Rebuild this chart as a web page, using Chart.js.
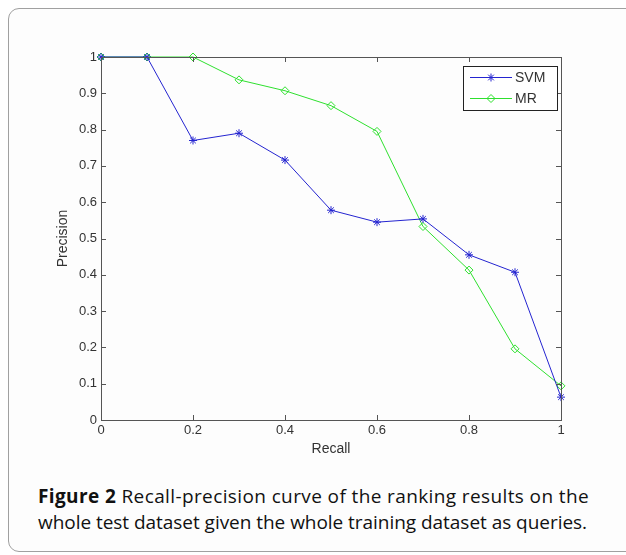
<!DOCTYPE html>
<html>
<head>
<meta charset="utf-8">
<script src="https://cdn.jsdelivr.net/npm/chart.js@4.4.0/dist/chart.umd.min.js"></script>
<style>
  html, body { margin: 0; padding: 0; background: #fff; }
  body { width: 626px; height: 555px; overflow: hidden; position: relative; }
  .panel {
    position: absolute; left: 8px; top: 8px; width: 660px; height: 542px;
    border: 1px solid #a0a0a0; border-radius: 11px; background: #fdfdfd;
  }
  .plot { position: absolute; left: 0; top: 0; width: 626px; height: 470px; }
  .caption {
    position: absolute; left: 38px; top: 483px;
    font-family: "Open Sans", sans-serif; font-size: 19px; line-height: 26px;
    color: #111; white-space: nowrap;
  }
  .caption b { font-weight: 700; }
  .caption span { display: inline-block; }
</style>
</head>
<body>
<div class="panel"></div>
<div class="plot"><canvas id="prChart" width="626" height="470"></canvas></div>
<div class="caption"><span id="capLine1"><b>Figure 2</b> Recall-precision curve of the ranking results on the</span><br><span id="capLine2">whole test dataset given the whole training dataset as queries.</span></div>
<script>
// recall levels and precision values
const recall = [0, 0.1, 0.2, 0.3, 0.4, 0.5, 0.6, 0.7, 0.8, 0.9, 1.0];
const svmPrecision = [1.0, 1.0, 0.77, 0.79, 0.716, 0.578, 0.545, 0.554, 0.455, 0.407, 0.063];
const mrPrecision = [1.0, 1.0, 1.0, 0.937, 0.907, 0.866, 0.795, 0.533, 0.413, 0.196, 0.094];
const xTicks = [0, 0.2, 0.4, 0.6, 0.8, 1];
const yTicks = [0, 0.1, 0.2, 0.3, 0.4, 0.5, 0.6, 0.7, 0.8, 0.9, 1];

const axisColor = '#555';
const textColor = '#333';
const tickFont = { family: 'Liberation Sans, Arial, sans-serif', size: 13 };
const titleFont = { family: 'Liberation Sans, Arial, sans-serif', size: 14 };

function toPoints(ys) {
    return recall.map(function(x, i) { return { x: x, y: ys[i] }; });
}

function fmt(v) {
    return String(Number(v.toFixed(2)));
}

// caption was typeset narrower in the original, stretch each line to its width
function fitLine(id, target) {
    const el = document.getElementById(id);
    const n = el.textContent.length;
    const w = el.getBoundingClientRect().width;
    el.style.letterSpacing = ((target - w) / n) + 'px';
}
fitLine('capLine1', 551);
fitLine('capLine2', 549);

// matlab style box with inward ticks on all four sides
const boxPlugin = {
    id: 'boxPlugin',
    afterDatasetsDraw: function(chart) {
        const ctx = chart.ctx;
        const a = chart.chartArea;
        const xs = chart.scales.x;
        const ys = chart.scales.y;
        const len = 5;
        ctx.save();
        ctx.strokeStyle = axisColor;
        ctx.lineWidth = 1;
        ctx.beginPath();
        xTicks.forEach(function(t) {
            const px = Math.round(xs.getPixelForValue(t)) + 0.5;
            ctx.moveTo(px, a.bottom); ctx.lineTo(px, a.bottom - len);
            ctx.moveTo(px, a.top); ctx.lineTo(px, a.top + len);
        });
        yTicks.forEach(function(t) {
            const py = Math.round(ys.getPixelForValue(t)) + 0.5;
            ctx.moveTo(a.left, py); ctx.lineTo(a.left + len, py);
            ctx.moveTo(a.right, py); ctx.lineTo(a.right - len, py);
        });
        ctx.stroke();
        ctx.strokeRect(Math.round(a.left) + 0.5, Math.round(a.top) + 0.5,
            Math.round(a.right - a.left), Math.round(a.bottom - a.top));
        ctx.restore();
    }
};

// legend box in the top right corner like matlab draws it
const legendPlugin = {
    id: 'legendPlugin',
    afterDraw: function(chart) {
        const ctx = chart.ctx;
        const left = 463, top = 66, w = 94, h = 44;
        ctx.save();
        ctx.fillStyle = '#fff';
        ctx.fillRect(left, top, w, h);
        ctx.strokeStyle = '#222';
        ctx.lineWidth = 1;
        ctx.strokeRect(left + 0.5, top + 0.5, w, h);
        chart.data.datasets.forEach(function(ds, i) {
            const cy = top + 11.5 + i * 21;
            ctx.strokeStyle = ds.borderColor;
            ctx.lineWidth = 1;
            ctx.beginPath();
            ctx.moveTo(left + 7, cy); ctx.lineTo(left + 49, cy);
            ctx.stroke();
            ctx.fillStyle = ds.backgroundColor;
            Chart.helpers.drawPoint(ctx, {
                pointStyle: ds.pointStyle, radius: ds.pointRadius,
                borderWidth: 1, rotation: 0
            }, left + 28, cy);
            ctx.fillStyle = textColor;
            ctx.font = '14px Liberation Sans, Arial, sans-serif';
            ctx.textBaseline = 'middle';
            ctx.fillText(ds.label, left + 52, cy + 1);
        });
        ctx.restore();
    }
};

const ctx = document.getElementById('prChart').getContext('2d');
const prChart = new Chart(ctx, {
    type: 'line',
    data: {
        datasets: [{
            label: 'SVM',
            data: toPoints(svmPrecision),
            borderColor: '#2424d0',
            backgroundColor: '#2424d0',
            borderWidth: 1,
            pointStyle: 'star',
            pointRadius: 4,
            pointBorderWidth: 1,
            tension: 0,
            clip: false
        }, {
            label: 'MR',
            data: toPoints(mrPrecision),
            borderColor: '#2ee02e',
            backgroundColor: 'rgba(0,0,0,0)',
            borderWidth: 1,
            pointStyle: 'rectRot',
            pointRadius: 4,
            pointBorderWidth: 1,
            tension: 0,
            clip: false
        }]
    },
    options: {
        responsive: false,
        animation: false,
        devicePixelRatio: 1,
        layout: { padding: { left: 41, right: 65, top: 57, bottom: 10 } },
        plugins: {
            legend: { display: false },
            tooltip: { enabled: false }
        },
        scales: {
            x: {
                type: 'linear',
                min: 0, max: 1,
                afterBuildTicks: function(scale) {
                    scale.ticks = xTicks.map(function(v) { return { value: v }; });
                },
                afterFit: function(scale) { scale.height = 40; },
                grid: { display: false, drawTicks: false },
                border: { display: false },
                ticks: {
                    color: textColor, font: tickFont, padding: 3, maxRotation: 0,
                    callback: function(v) { return fmt(v); }
                },
                title: {
                    display: true, text: 'Recall', color: textColor, font: titleFont,
                    padding: { top: 0, bottom: 2 }
                }
            },
            y: {
                type: 'linear',
                min: 0, max: 1,
                afterBuildTicks: function(scale) {
                    scale.ticks = yTicks.map(function(v) { return { value: v }; });
                },
                afterFit: function(scale) { scale.width = 60; },
                grid: { display: false, drawTicks: false },
                border: { display: false },
                ticks: {
                    color: textColor, font: tickFont, padding: 4,
                    callback: function(v) { return fmt(v); }
                },
                title: {
                    display: true, text: 'Precision', color: textColor, font: titleFont,
                    padding: { top: 14, bottom: 0 }
                }
            }
        }
    },
    plugins: [boxPlugin, legendPlugin]
});
</script>
</body>
</html>
